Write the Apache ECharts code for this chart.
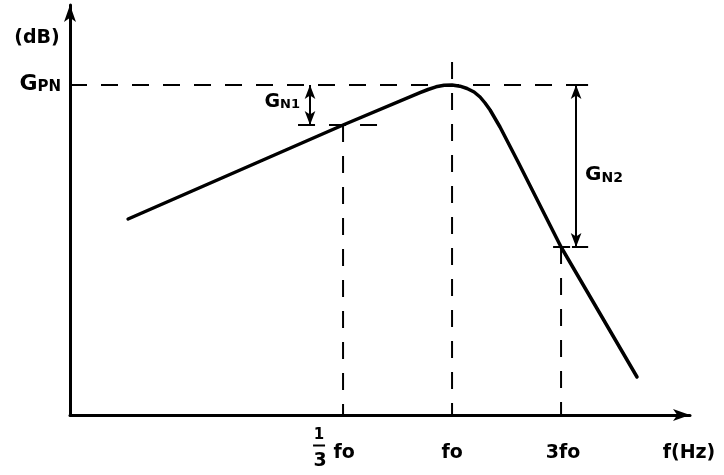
<!DOCTYPE html>
<html>
<head>
<meta charset="utf-8">
<script src="https://cdn.jsdelivr.net/npm/echarts@6/dist/echarts.min.js"></script>
<style>
  html, body { margin: 0; padding: 0; background: #fff; }
  #chart { width: 724px; height: 475px; }
</style>
</head>
<body>
<div id="chart"></div>
<script>
// Frequency axis: x = log3(f / fo); level axis: relative gain (arbitrary units, GPN = 0)
const curveX = [-2.972, -1.0, -0.294, -0.220, -0.147, -0.073, 0.0, 0.073, 0.138, 0.202, 0.257, 0.303, 0.349, 0.440, 0.606, 1.0, 1.697];
const curveY = [-13.4, -4.0, -0.77, -0.45, -0.18, -0.02, 0.0, -0.12, -0.35, -0.7, -1.2, -1.8, -2.5, -4.2, -7.7, -16.2, -29.2];
const tickValues = [-1, 0, 1];          // 1/3 fo, fo, 3 fo
const tickLabels = ['1/3 fo', 'fo', '3fo'];
const levelGPN = 0;
const levelGN1 = -4.0;
const levelGN2 = -16.2;

const X_MIN = -3.505, X_MAX = 2.183, Y_MIN = -33, Y_MAX = 8;
const FONT = '"DejaVu Sans", "Liberation Sans", sans-serif';

const chart = echarts.init(document.getElementById('chart'), null, { renderer: 'canvas' });

const dash = { color: '#000', width: 2, type: [17, 14] };
function seg(x1, y1, x2, y2) { return [[x1, y1], [x2, y2]]; }
function dashedSeries(points) {
  return { type: 'line', data: points, symbol: 'none', silent: true, animation: false,
           lineStyle: dash, z: 1 };
}

const series = [
  {
    type: 'line',
    data: curveX.map((x, i) => [x, curveY[i]]),
    symbol: 'none',
    smooth: false,
    lineStyle: { color: '#000', width: 3.5, join: 'round', cap: 'round' },
    z: 5,
    animation: false
  },
  dashedSeries(seg(X_MIN, levelGPN, 1.248, levelGPN)),
  dashedSeries(seg(-1.413, levelGN1, -0.688, levelGN1)),
  dashedSeries(seg(0.927, levelGN2, 1.248, levelGN2)),
  dashedSeries(seg(tickValues[0], levelGN1, tickValues[0], Y_MIN)),
  dashedSeries(seg(tickValues[1], 2.3, tickValues[1], Y_MIN)),
  dashedSeries(seg(tickValues[2], levelGN2, tickValues[2], Y_MIN)),
  {
    type: 'line', data: [], symbol: 'none', animation: false,
    markLine: {
      silent: true, animation: false,
      symbol: ['arrow', 'arrow'], symbolSize: [8, 14],
      label: { show: false },
      lineStyle: { color: '#000', width: 2, type: 'solid' },
      data: [
        [{ coord: [-1.303, levelGPN] }, { coord: [-1.303, levelGN1] }],
        [{ coord: [1.138, levelGPN] }, { coord: [1.138, levelGN2] }]
      ]
    }
  },
  { type: 'line', data: seg(1.10, levelGN2, 1.248, levelGN2), symbol: 'none', animation: false,
    lineStyle: { color: '#000', width: 2 } },
  { type: 'line', data: seg(1.10, levelGPN, 1.248, levelGPN), symbol: 'none', animation: false,
    lineStyle: { color: '#000', width: 2 } }
];

chart.setOption({
  animation: false,
  grid: { left: 70, right: 34, top: 5, bottom: 60, containLabel: false },
  xAxis: {
    type: 'value', min: X_MIN, max: X_MAX,
    axisLine: { show: true, onZero: false, symbol: ['none', 'arrow'], symbolSize: [9, 17],
                lineStyle: { color: '#000', width: 3 } },
    axisTick: { show: false }, axisLabel: { show: false }, splitLine: { show: false }
  },
  yAxis: {
    type: 'value', min: Y_MIN, max: Y_MAX,
    axisLine: { show: true, onZero: false, symbol: ['none', 'arrow'], symbolSize: [9, 17],
                lineStyle: { color: '#000', width: 3 } },
    axisTick: { show: false }, axisLabel: { show: false }, splitLine: { show: false }
  },
  series: series
});

function px(x, y) { return chart.convertToPixel({ gridIndex: 0 }, [x, y]); }

const pGPN = px(X_MIN, levelGPN);
const axisY = px(0, Y_MIN)[1];
const t0 = px(tickValues[0], Y_MIN), t1 = px(tickValues[1], Y_MIN), t2 = px(tickValues[2], Y_MIN);
const gn1 = px(-1.303, (levelGPN + levelGN1) / 2);
const gn2 = px(1.138, (levelGPN + levelGN2) / 2);
const txt = { fill: '#000', fontFamily: FONT, fontWeight: 'bold' };

function sub(big, small, bs, ss) {
  return {
    text: '{g|' + big + '}{s|' + small + '}',
    rich: { g: { fontSize: bs, fontFamily: FONT, fontWeight: 'bold', fill: '#000', verticalAlign: 'bottom' },
            s: { fontSize: ss, fontFamily: FONT, fontWeight: 'bold', fill: '#000', verticalAlign: 'bottom' } }
  };
}

const graphics = [
  { type: 'text', x: 37, y: 38, style: Object.assign({ text: '(dB)', fontSize: 19, align: 'center', verticalAlign: 'middle' }, txt) },
  { type: 'text', x: pGPN[0] - 9, y: pGPN[1] - 1, style: Object.assign(sub('G', 'PN', 22, 15), { align: 'right', verticalAlign: 'middle' }, txt) },
  { type: 'text', x: gn1[0] - 10, y: gn1[1] - 3, style: Object.assign(sub('G', 'N1', 19, 13), { align: 'right', verticalAlign: 'middle' }, txt) },
  { type: 'text', x: gn2[0] + 9, y: gn2[1] + 9, style: Object.assign(sub('G', 'N2', 20, 14), { align: 'left', verticalAlign: 'middle' }, txt) },
  // 1/3 fo
  { type: 'text', x: t0[0] - 24, y: axisY + 20, style: Object.assign({ text: '1', fontSize: 15, align: 'center', verticalAlign: 'middle' }, txt) },
  { type: 'line', shape: { x1: t0[0] - 30, y1: axisY + 30.5, x2: t0[0] - 18, y2: axisY + 30.5 }, style: { stroke: '#000', lineWidth: 2 } },
  { type: 'text', x: t0[0] - 23, y: axisY + 46, style: Object.assign({ text: '3', fontSize: 19, align: 'center', verticalAlign: 'middle' }, txt) },
  { type: 'text', x: t0[0] + 1, y: axisY + 38, style: Object.assign({ text: 'fo', fontSize: 19, align: 'center', verticalAlign: 'middle' }, txt) },
  { type: 'text', x: t1[0], y: axisY + 38, style: Object.assign({ text: tickLabels[1], fontSize: 19, align: 'center', verticalAlign: 'middle' }, txt) },
  { type: 'text', x: t2[0] + 2, y: axisY + 38, style: Object.assign({ text: tickLabels[2], fontSize: 19, align: 'center', verticalAlign: 'middle' }, txt) },
  { type: 'text', x: 689, y: axisY + 38, style: Object.assign({ text: 'f(Hz)', fontSize: 19, align: 'center', verticalAlign: 'middle' }, txt) }
];
chart.setOption({ graphic: graphics });
</script>
</body>
</html>
